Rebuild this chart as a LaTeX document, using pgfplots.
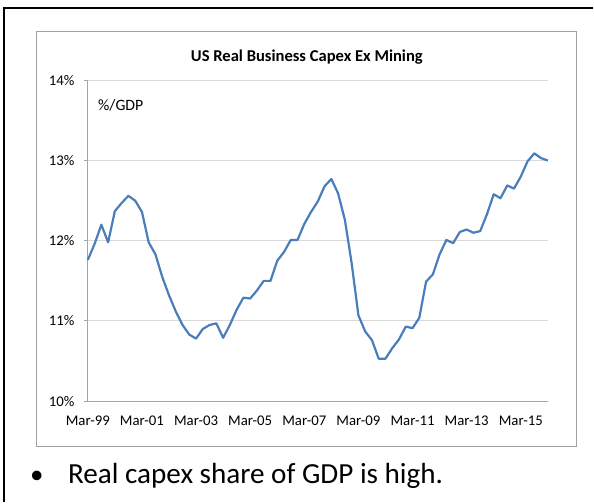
\documentclass[border=0pt]{standalone}
\usepackage{fontspec}
\setmainfont{Carlito}
\usepackage{pgfplots}
\pgfplotsset{compat=1.18}
\usepackage{pgfplotstable}

\definecolor{xlblue}{HTML}{4A7EBB}
\definecolor{xlgrid}{HTML}{D9D9D9}
\definecolor{xlaxis}{HTML}{A6A6A6}
\definecolor{xlbox}{HTML}{A0A0A0}

% quarterly, Mar-99 = 0
\pgfplotstableread{
q v
0 11.76
1 11.96
2 12.20
3 11.98
4 12.37
5 12.47
6 12.56
7 12.50
8 12.36
9 11.98
10 11.83
11 11.55
12 11.32
13 11.12
14 10.95
15 10.83
16 10.78
17 10.90
18 10.95
19 10.97
20 10.79
21 10.95
22 11.14
23 11.29
24 11.28
25 11.38
26 11.50
27 11.50
28 11.75
29 11.86
30 12.01
31 12.01
32 12.21
33 12.36
34 12.49
35 12.68
36 12.77
37 12.59
38 12.26
39 11.72
40 11.07
41 10.87
42 10.76
43 10.53
44 10.53
45 10.66
46 10.77
47 10.93
48 10.91
49 11.04
50 11.49
51 11.58
52 11.83
53 12.01
54 11.97
55 12.11
56 12.14
57 12.10
58 12.12
59 12.33
60 12.58
61 12.53
62 12.69
63 12.65
64 12.80
65 12.99
66 13.09
67 13.03
68 13.00
}\capex

\begin{document}
\begin{tikzpicture}
\path (0pt,0pt) rectangle (594pt,-503pt);
% slide frame
\draw[line width=2.5pt,black] (4pt,-503pt) -- (4pt,-8pt) -- (594pt,-8pt);
% chart area
\draw[xlbox,line width=1pt] (36.7pt,-31.7pt) rectangle (577.3pt,-447.3pt);
\node[anchor=base,font=\bfseries\fontsize{16.6}{20}\selectfont] at (307.5pt,-61.7pt) {US Real Business Capex Ex Mining};

\begin{axis}[
  at={(88pt,-402pt)}, anchor=south west,
  scale only axis, width=461pt, height=321.5pt,
  xmin=0, xmax=68, ymin=10, ymax=14,
  axis x line*=bottom, axis y line*=left,
  axis line style={xlaxis,line width=1.2pt},
  xtick={0,8,...,64},
  xticklabels={Mar-99,Mar-01,Mar-03,Mar-05,Mar-07,Mar-09,Mar-11,Mar-13,Mar-15},
  ytick={10,11,12,13,14},
  yticklabels={10\%,11\%,12\%,13\%,14\%},
  ymajorgrids, grid style={xlgrid,line width=1pt},
  x tick style={draw=none},
  y tick style={xlaxis,line width=1pt},
  tick align=outside, major tick length=4pt,
  ticklabel style={font=\fontsize{14.8}{17}\selectfont},
  yticklabel style={xshift=-6pt},
  xticklabel style={yshift=-7pt},
  /pgf/number format/assume math mode=true,
  clip=false,
]
\addplot[xlblue,line width=2.2pt,line join=round] table[x=q,y=v] {\capex};
\node[anchor=base west,font=\fontsize{15.8}{18}\selectfont,inner sep=0pt] at (axis cs:1.5,13.63) {\%/GDP};
\end{axis}

% bullet line
\node[anchor=base,font=\fontsize{27}{32}\selectfont,inner sep=0pt] at (37pt,-484.3pt) {•};
\node[anchor=base west,font=\fontsize{29.2}{34}\selectfont,inner sep=0pt] at (68pt,-484.3pt) {Real capex share of GDP is high.};
\end{tikzpicture}
\end{document}
